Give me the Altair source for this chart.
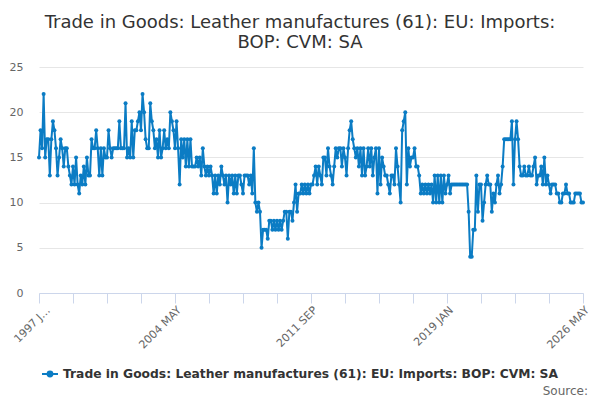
import altair as alt
import pandas as pd

TITLE = ["Trade in Goods: Leather manufactures (61): EU: Imports:", "BOP: CVM: SA"]
SERIES = "Trade in Goods: Leather manufactures (61): EU: Imports: BOP: CVM: SA"
BLUE = "#0b7cc4"

MONTHS = ["JAN", "FEB", "MAR", "APR", "MAY", "JUN",
          "JUL", "AUG", "SEP", "OCT", "NOV", "DEC"]
START_YEAR = 1997
LABELLED = ["1997 JAN", "2004 MAY", "2011 SEP", "2019 JAN", "2026 MAY"]

# monthly values, one line per year
values_1997_2005 = [
    15, 18, 16, 22, 15, 17, 17, 13, 17, 19, 18, 16,  # 1997
    13, 15, 17, 16, 14, 16, 16, 14, 13, 12, 14, 12,  # 1998
    15, 12, 11, 13, 12, 14, 12, 15, 13, 13, 17, 16,  # 1999
    16, 18, 16, 13, 16, 13, 16, 15, 15, 18, 16, 15,  # 2000
    16, 16, 16, 16, 19, 16, 16, 16, 21, 15, 16, 15,  # 2001
    19, 15, 18, 18, 19, 20, 18, 22, 20, 17, 16, 16,  # 2002
    21, 19, 18, 16, 17, 15, 18, 15, 16, 18, 16, 17,  # 2003
    16, 20, 19, 18, 16, 19, 16, 12, 17, 15, 17, 14,  # 2004
    17, 14, 17, 14, 14, 14, 15, 14, 15, 13, 16, 14,  # 2005
]
values_2006_2015 = [
    13, 14, 13, 14, 13, 11, 13, 11, 13, 12, 14, 13,  # 2006
    12, 13, 10, 13, 12, 13, 11, 13, 11, 13, 13, 12,  # 2007
    11, 13, 13, 13, 12, 13, 11, 16, 10, 9, 10, 9,    # 2008
    5, 7, 7, 7, 6, 8, 8, 7, 8, 7, 8, 7,              # 2009
    8, 7, 8, 9, 9, 6, 9, 9, 8, 10, 12, 9,            # 2010
    11, 11, 12, 11, 12, 11, 12, 11, 12, 12, 13, 14,  # 2011
    12, 14, 13, 12, 15, 15, 13, 16, 14, 13, 12, 14,  # 2012
    16, 15, 16, 16, 14, 16, 15, 13, 16, 18, 19, 17,  # 2013
    16, 15, 16, 14, 16, 13, 16, 13, 14, 16, 14, 16,  # 2014
    13, 15, 16, 11, 16, 12, 15, 14, 13, 13, 12, 11,  # 2015
]
values_2016_2026 = [
    13, 13, 12, 16, 14, 12, 10, 18, 19, 20, 12, 16,  # 2016
    14, 15, 15, 16, 14, 14, 13, 11, 12, 11, 12, 11,  # 2017
    12, 11, 12, 10, 13, 10, 13, 10, 13, 10, 13, 11,  # 2018
    12, 13, 11, 12, 12, 12, 12, 12, 12, 12, 12, 12,  # 2019
    12, 12, 9, 4, 4, 7, 7, 13, 9, 12, 12, 8,         # 2020
    10, 12, 13, 12, 12, 9, 11, 10, 12, 13, 11, 12,   # 2021
    14, 17, 17, 17, 17, 17, 19, 12, 17, 19, 17, 14,  # 2022
    13, 13, 14, 13, 13, 14, 13, 13, 14, 15, 12, 13,  # 2023
    13, 14, 12, 15, 12, 13, 12, 11, 12, 12, 12, 11,  # 2024
    11, 10, 10, 11, 11, 12, 11, 11, 10, 10, 10, 11,  # 2025
    11, 11, 11, 10, 10,                              # 2026
]

values = values_1997_2005 + values_2006_2015 + values_2016_2026
months = [f"{START_YEAR + i // 12} {MONTHS[i % 12]}" for i in range(len(values))]
tick_months = months[::22]

df = pd.DataFrame({"month": months, "value": values, "series": SERIES})

label_expr = (
    "datum.value == '1997 JAN' ? '1997 J…' : "
    "indexof(" + str(LABELLED) + ", datum.value) >= 0 ? datum.value : ''"
)
# nudge the first (clipped) label so it stays inside the page
first_offset = {"condition": {"test": "datum.value == '1997 JAN'", "value": 5}, "value": 0}

base = alt.Chart(df).encode(
    x=alt.X("month:O", sort=None, title=None,
            scale=alt.Scale(type="point", padding=0),
            axis=alt.Axis(values=tick_months, labelExpr=label_expr, labelAngle=315,
                          labelOverlap=False, labelColor="#666666", labelFontSize=11,
                          labelFont="DejaVu Sans", labelPadding=1, labelOffset=first_offset,
                          grid=False, domainColor="#ccd6eb", tickColor="#ccd6eb",
                          tickSize=10)),
    y=alt.Y("value:Q", title=None,
            scale=alt.Scale(domain=[0, 25], nice=False),
            axis=alt.Axis(values=[0, 5, 10, 15, 20, 25], domain=False, ticks=False,
                          gridColor="#e6e6e6", labelColor="#666666", labelFontSize=11,
                          labelFont="DejaVu Sans", labelPadding=16)),
    color=alt.Color("series:N", scale=alt.Scale(range=[BLUE]),
                    legend=alt.Legend(
                        title=None, orient="none", legendX=2, legendY=298,
                        symbolType="M-1,0L1,0M-0.3,0a0.3,0.3 0 1,0 0.6,0a0.3,0.3 0 1,0 -0.6,0",
                        symbolSize=256, symbolStrokeWidth=2, symbolFillColor=BLUE,
                        symbolStrokeColor=BLUE, labelFont="DejaVu Sans",
                        labelFontWeight="bold", labelFontSize=12.3, labelColor="#333333",
                        labelLimit=0, padding=0)),
)

line = base.mark_line(strokeWidth=2)
points = base.mark_circle(size=16, opacity=1)

source = alt.Chart(pd.DataFrame({"t": ["Source:"]})).mark_text(
    align="right", baseline="middle", font="DejaVu Sans", fontSize=12, color="#666666"
).encode(x=alt.value(549), y=alt.value(324), text="t:N")

chart = alt.layer(line, points, source).properties(
    width=544,
    height=226,
    padding={"left": 31, "top": 59, "right": 9, "bottom": 105},
    autosize=alt.AutoSizeParams(type="none"),
    title=alt.TitleParams(text=TITLE, font="DejaVu Sans", fontSize=18,
                          fontWeight="normal", color="#333333", anchor="middle",
                          dx=-11, offset=9, lineHeight=20),
).configure_view(stroke=None)

chart.save("out.html", embed_options={"renderer": "svg", "actions": False})
